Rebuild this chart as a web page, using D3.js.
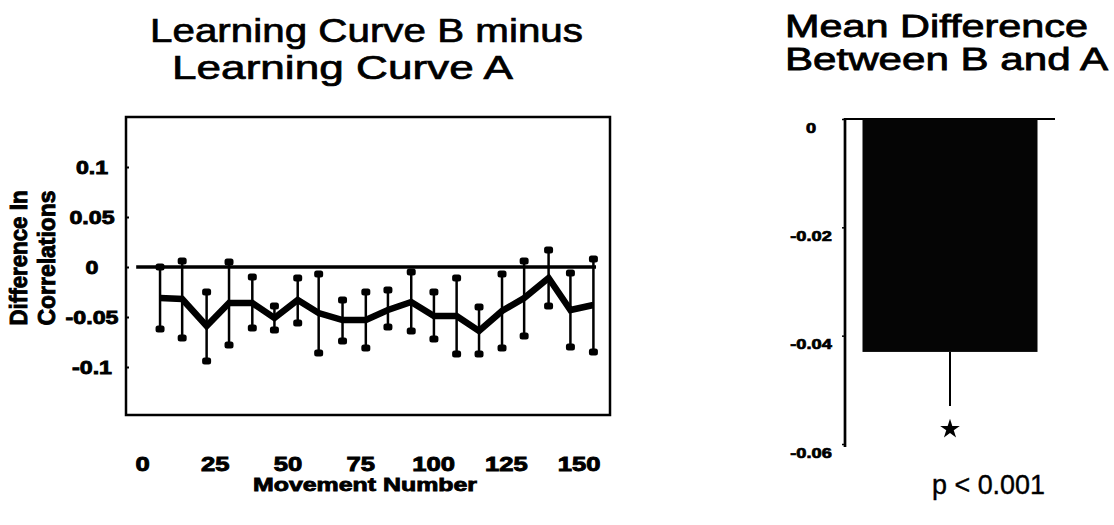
<!DOCTYPE html>
<html>
<head>
<meta charset="utf-8">
<script src="https://cdn.jsdelivr.net/npm/d3@7/dist/d3.min.js"></script>
<style>
  html, body { margin: 0; padding: 0; background: #fff; }
  svg { display: block; }
  text { font-family: "Liberation Sans", Arial, Helvetica, sans-serif; fill: #000; }
</style>
</head>
<body>
<div id="chart"></div>
<script>
// left panel: B minus A, per block of movements
const movement = [6.2, 13.8, 22.2, 29.9, 37.9, 45.5, 53.5, 60.7, 68.9, 76.9,
                  84.5, 92.5, 100.3, 108.1, 115.8, 123.7, 131.3, 139.7, 147.2, 155.1];
const meanDiff = [-0.031, -0.032, -0.059, -0.036, -0.036, -0.051, -0.033, -0.046, -0.053, -0.053,
                  -0.043, -0.035, -0.049, -0.049, -0.064, -0.044, -0.031, -0.011, -0.043, -0.038];
const upperDiff = [0.000, 0.006, -0.025, 0.005, -0.010, -0.039, -0.011, -0.007, -0.033, -0.025,
                   -0.023, -0.005, -0.025, -0.011, -0.040, -0.007, 0.006, 0.017, -0.006, 0.008];
const lowerDiff = [-0.062, -0.071, -0.094, -0.078, -0.061, -0.063, -0.056, -0.086, -0.074, -0.081,
                   -0.060, -0.064, -0.072, -0.087, -0.087, -0.081, -0.069, -0.039, -0.080, -0.085];
const zeroSpan = [-2, 156];
const xTicks = [0, 25, 50, 75, 100, 125, 150];
const yTicks = [0.1, 0.05, 0, -0.05, -0.1];

// right panel: overall mean difference
const barLabels = ["B - A"];
const barMeans = [-0.043];
const barErrors = [0.010];
const barTicks = [0, -0.02, -0.04, -0.06];

const width = 1114, height = 525;
const STRETCH = 1.35; // the scanned figure is wider than it is tall

const svg = d3.select("#chart").append("svg")
  .attr("width", width)
  .attr("height", height);

function widen(sel, factor) {
  sel.each(function() {
    const w = this.getComputedTextLength();
    this.setAttribute("textLength", w * factor);
    this.setAttribute("lengthAdjust", "spacingAndGlyphs");
  });
}

function label(txt, x, y, size, weight, len, thick) {
  const t = svg.append("text")
    .attr("x", x)
    .attr("y", y)
    .attr("text-anchor", "middle")
    .style("font-size", size + "px")
    .style("font-weight", weight)
    .attr("stroke", "#000")
    .attr("stroke-width", thick || 0)
    .text(txt);
  if (len) t.attr("textLength", len).attr("lengthAdjust", "spacingAndGlyphs");
  return t;
}

// ---------- left panel ----------
const x = d3.scaleLinear().domain([-5.5, 160.8]).range([126, 610]);
const y = d3.scaleLinear().domain([-0.148, 0.15]).range([415, 117]);

svg.append("rect")
  .attr("x", x.range()[0])
  .attr("y", y.range()[1])
  .attr("width", x.range()[1] - x.range()[0])
  .attr("height", y.range()[0] - y.range()[1])
  .attr("fill", "none")
  .attr("stroke", "#000")
  .attr("stroke-width", 2.5);

const yAxis = svg.append("g")
  .attr("transform", `translate(${x.range()[0]},0)`)
  .call(d3.axisLeft(y).tickValues(yTicks).tickSize(-3).tickFormat(d => String(d)));
yAxis.select(".domain").remove();
yAxis.selectAll(".tick line").attr("stroke", "#000").attr("stroke-width", 2);
yAxis.selectAll(".tick text")
  .attr("x", -34)
  .attr("dy", "0.36em")
  .attr("text-anchor", "middle")
  .style("font-size", "19px")
  .style("font-weight", "bold")
  .style("font-family", "'Liberation Sans', Arial, sans-serif")
  .attr("stroke", "#000")
  .attr("stroke-width", 0.9)
  .call(widen, 1.22);

const xAxis = svg.append("g")
  .attr("transform", `translate(0,${y.range()[0]})`)
  .call(d3.axisBottom(x).tickValues(xTicks).tickSize(0));
xAxis.select(".domain").remove();
xAxis.selectAll(".tick text")
  .attr("y", 56)
  .attr("dy", 0)
  .style("font-size", "20px")
  .style("font-weight", "bold")
  .style("font-family", "'Liberation Sans', Arial, sans-serif")
  .attr("stroke", "#000")
  .attr("stroke-width", 0.9)
  .call(widen, 1.28);

// zero reference line
svg.append("line")
  .attr("x1", x(zeroSpan[0]))
  .attr("x2", x(zeroSpan[1]))
  .attr("y1", y(0))
  .attr("y2", y(0))
  .attr("stroke", "#000")
  .attr("stroke-width", 3.5);

const points = movement.map((m, i) => ({
  m: m, mean: meanDiff[i], hi: upperDiff[i], lo: lowerDiff[i]
}));

// error bars
const bars = svg.append("g").selectAll("g")
  .data(points)
  .enter()
  .append("g");

bars.append("line")
  .attr("x1", d => x(d.m))
  .attr("x2", d => x(d.m))
  .attr("y1", d => y(d.hi))
  .attr("y2", d => y(d.lo))
  .attr("stroke", "#000")
  .attr("stroke-width", 2.5);

bars.selectAll("rect")
  .data(d => [{m: d.m, v: d.hi}, {m: d.m, v: d.lo}])
  .enter()
  .append("rect")
  .attr("x", d => x(d.m) - 4.5)
  .attr("y", d => y(d.v) - 3.5)
  .attr("width", 9)
  .attr("height", 7)
  .attr("rx", 2.5)
  .attr("fill", "#000");

// mean curve
svg.append("path")
  .datum(points)
  .attr("d", d3.line().x(d => x(d.m)).y(d => y(d.mean)))
  .attr("fill", "none")
  .attr("stroke", "#000")
  .attr("stroke-width", 6.5)
  .attr("stroke-linejoin", "miter");

label("Learning Curve B minus", 366.5, 42, 33, "normal", 433, 0.7);
label("Learning Curve A", 342.5, 79, 33, "normal", 341, 0.7);
label("Movement Number", 365, 491, 18, "bold", 224, 0.8);

[["Difference In", 27], ["Correlations", 55]].forEach(([txt, bx]) => {
  svg.append("text")
    .attr("transform", `translate(${bx},258) scale(${STRETCH},1) rotate(-90)`)
    .attr("text-anchor", "middle")
    .attr("textLength", 135)
    .attr("lengthAdjust", "spacingAndGlyphs")
    .style("font-size", "18px")
    .style("font-weight", "bold")
    .attr("stroke", "#000")
    .attr("stroke-width", 0.7)
    .text(txt);
});

// ---------- right panel ----------
const xb = d3.scaleBand().domain(barLabels).range([845, 1055]).paddingInner(0).paddingOuter(0.1);
const yb = d3.scaleLinear().domain([-0.06, 0]).range([444, 119]);

const ybAxis = svg.append("g")
  .attr("transform", `translate(${xb.range()[0]},0)`)
  .call(d3.axisLeft(yb).tickValues(barTicks).tickSize(3).tickFormat(d => String(d)));
ybAxis.select(".domain").remove();
ybAxis.selectAll(".tick line").attr("stroke", "#000").attr("stroke-width", 1.5);
ybAxis.selectAll(".tick text")
  .attr("x", -34)
  .attr("dy", 13)
  .attr("text-anchor", "middle")
  .style("font-size", "14px")
  .style("font-weight", "bold")
  .style("font-family", "'Liberation Sans', Arial, sans-serif")
  .attr("stroke", "#000")
  .attr("stroke-width", 0.7)
  .call(widen, 1.3);

svg.append("line")
  .attr("x1", xb.range()[0])
  .attr("x2", xb.range()[0])
  .attr("y1", yb(0) - 1)
  .attr("y2", yb(-0.06) + 3)
  .attr("stroke", "#000")
  .attr("stroke-width", 2.7);

svg.append("line")
  .attr("x1", xb.range()[0])
  .attr("x2", xb.range()[1])
  .attr("y1", yb(0))
  .attr("y2", yb(0))
  .attr("stroke", "#000")
  .attr("stroke-width", 2.2);

const barData = barLabels.map((k, i) => ({k: k, mean: barMeans[i], err: barErrors[i]}));

svg.selectAll(".bar")
  .data(barData)
  .enter()
  .append("rect")
  .attr("class", "bar")
  .attr("x", d => xb(d.k))
  .attr("width", xb.bandwidth())
  .attr("y", yb(0))
  .attr("height", d => yb(d.mean) - yb(0))
  .attr("fill", "#050505");

svg.selectAll(".err")
  .data(barData)
  .enter()
  .append("line")
  .attr("class", "err")
  .attr("x1", d => xb(d.k) + xb.bandwidth() / 2)
  .attr("x2", d => xb(d.k) + xb.bandwidth() / 2)
  .attr("y1", d => yb(d.mean))
  .attr("y2", d => yb(d.mean - d.err))
  .attr("stroke", "#000")
  .attr("stroke-width", 2);

svg.selectAll(".star")
  .data(barData)
  .enter()
  .append("path")
  .attr("class", "star")
  .attr("transform", d => `translate(${xb(d.k) + xb.bandwidth() / 2},${yb(d.mean - d.err) + 23})`)
  .attr("d", d3.symbol().type(d3.symbolStar).size(120))
  .attr("fill", "#000");

label("Mean Difference", 936.5, 37, 31, "normal", 303, 0.8);
label("Between B and A", 946.5, 70, 31, "normal", 323, 0.8);
label("p < 0.001", 988.5, 494, 28, "normal", 113, 0.4);
</script>
</body>
</html>
